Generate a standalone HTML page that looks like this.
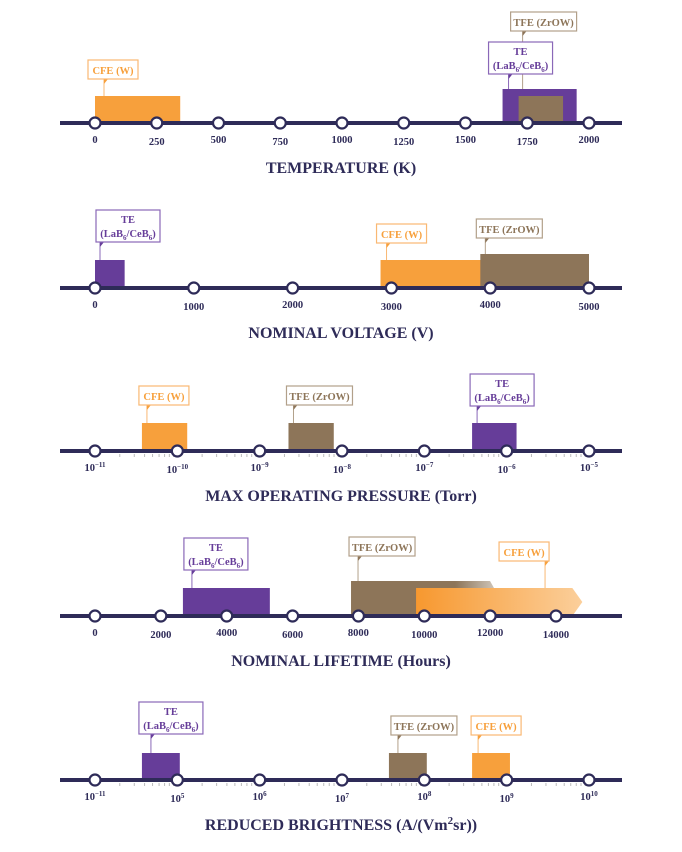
<!DOCTYPE html>
<html><head><meta charset="utf-8"><style>
html,body{margin:0;padding:0;background:#fff;}
svg{display:block;font-family:"Liberation Serif",serif;}
</style></head><body>
<svg id="chart" width="682" height="852" viewBox="0 0 682 852" xmlns="http://www.w3.org/2000/svg">
<defs>
<linearGradient id="gTFE" x1="0" x2="1" y1="0" y2="0"><stop offset="0" stop-color="#8d7559"/><stop offset="0.7" stop-color="#8d7559"/><stop offset="1" stop-color="#8d7559" stop-opacity="0.35"/></linearGradient>
<linearGradient id="gCFE" x1="0" x2="1" y1="0" y2="0"><stop offset="0" stop-color="#f7982f"/><stop offset="1" stop-color="#fbcf9b"/></linearGradient>
</defs>
</svg>
<script>
// ---- data ----
const tempTicks=[0,250,500,750,1000,1250,1500,1750,2000];
const tempSeries=["CFE","TE","TFE"];
const tempStart=[0,1650,1715];
const tempEnd=[345,1950,1895];
const voltTicks=[0,1000,2000,3000,4000,5000];
const voltSeries=["TE","CFE","TFE"];
const voltStart=[0,2890,3900];
const voltEnd=[300,4100,5000];
const presTicks=[-11,-10,-9,-8,-7,-6,-5];
const presTickLabels=["-11","-10","-9","-8","-7","-6","-5"];
const presSeries=["CFE","TFE","TE"];
const presStart=[-10.43,-8.65,-6.42];
const presEnd=[-9.88,-8.1,-5.88];
const lifeTicks=[0,2000,4000,6000,8000,10000,12000,14000];
const lifeSeries=["TE","TFE","CFE"];
const lifeStart=[2670,7775,9750];
const lifeEnd=[5310,12300,14800];
const brightTicks=[4,5,6,7,8,9,10];
const brightTickLabels=["-11","5","6","7","8","9","10"];
const brightSeries=["TE","TFE","CFE"];
const brightStart=[4.57,7.57,8.58];
const brightEnd=[5.03,8.03,9.04];

const NS="http://www.w3.org/2000/svg";
const svg=document.getElementById('chart');
const NAVY="#2e2b58";
const COL={CFE:"#f7a03c",TE:"#663d99",TFE:"#8d7559"};
const LCOL={CFE:"#f9b873",TE:"#8a68b8",TFE:"#b2a08a"};
function mk(tag,attrs,parent){const e=document.createElementNS(NS,tag);for(const k in attrs)e.setAttribute(k,attrs[k]);(parent||svg).appendChild(e);return e;}

function panel(cfg){
  const g=mk('g',{});
  
  
  const lines=mk('g',{},g);
  const y=cfg.y;
  const x=v=>95+(v-cfg.min)/(cfg.max-cfg.min)*cfg.span;
  cfg.series.forEach((s,i)=>{
    const x0=x(cfg.start[i]),x1=x(cfg.end[i]);const top=y-cfg.h[i];
    let el;
    if(cfg.arrow&&cfg.arrow[i]){
      el=mk('polygon',{points:`${x0},${top} ${x1-10},${top} ${x1},${(top+y)/2} ${x1-10},${y} ${x0},${y}`,fill:cfg.arrow[i]},g);
    } else el=mk('rect',{x:x0,y:top,width:x1-x0,height:y-top,fill:COL[s]},g);
    
    
    const L=cfg.lab[i];const px=x0+L[0];const two=s==="TE";
    const w=s==="CFE"?50:(s==="TFE"?66:64);const hh=two?32:19;
    const bx=px+L[1]-w/2, by=L[2];
    const lg=mk('g',{},g);
    
    
    mk('line',{x1:px,y1:by+hh,x2:px,y2:top,stroke:LCOL[s],'stroke-width':1},lines);
    mk('polygon',{points:`${px},${by+hh} ${px+4},${by+hh} ${px},${by+hh+5}`,fill:COL[s]},lg);
    mk('rect',{x:bx,y:by,width:w,height:hh,fill:'#fff',stroke:LCOL[s],'stroke-width':1.2},lg);
    const tx=bx+w/2;
    if(two){
      const t1=mk('text',{x:tx,y:by+13,'text-anchor':'middle','font-size':10.5,'font-weight':'bold',fill:COL[s]},lg);t1.textContent="TE";
      const t2=mk('text',{x:tx,y:by+27,'text-anchor':'middle','font-size':10.5,'font-weight':'bold',fill:COL[s]},lg);
      t2.innerHTML='(LaB<tspan font-size="7" dy="3">6</tspan><tspan dy="-3">/CeB</tspan><tspan font-size="7" dy="3">6</tspan><tspan dy="-3">)</tspan>';
    } else {
      const t=mk('text',{x:tx,y:by+14,'text-anchor':'middle','font-size':10.5,'font-weight':'bold',fill:COL[s]},lg);
      t.textContent=s==="CFE"?"CFE (W)":"TFE (ZrOW)";
    }
  });
  const ax=mk('line',{x1:60,y1:y,x2:622,y2:y,stroke:NAVY,'stroke-width':4},g);
  
  
  if(cfg.log){
    for(let e=cfg.min;e<cfg.max;e++)for(let k=2;k<10;k++){
      const xx=x(e+Math.log10(k));mk('line',{x1:xx,y1:y+3,x2:xx,y2:y+6,stroke:'#bbb','stroke-width':1},g);
    }
  }
  cfg.ticks.forEach((t,i)=>{
    const c=mk('circle',{cx:x(t),cy:y,r:5.5,fill:'#fff',stroke:NAVY,'stroke-width':2.2},g);
    
    
    const ly=y+20+(i%2?2:0);
    const tl=mk('text',{x:x(t),y:ly,'text-anchor':'middle','font-size':10.5,'font-weight':'bold',fill:NAVY},g);
    
    
    if(cfg.log){tl.innerHTML='10<tspan font-size="7" dy="-4">'+cfg.tickLabels[i].replace('-','\u2212')+'</tspan>';}
    else tl.textContent=String(t);
  });
  const ti=mk('text',{x:341,y:y+50,'text-anchor':'middle','font-size':16,'font-weight':'bold',fill:NAVY},g);
  
  
  ti.innerHTML=cfg.title;
}

panel({name:'temperature',y:123,min:0,max:2000,span:494,ticks:tempTicks,series:tempSeries,start:tempStart,end:tempEnd,
  h:[27,34,27],lab:[[9,9,60],[6,12,42],[4,21,12]],title:'TEMPERATURE (K)'});
panel({name:'voltage',y:288,min:0,max:5000,span:494,ticks:voltTicks,series:voltSeries,start:voltStart,end:voltEnd,
  h:[28,28,34],lab:[[5,28,210],[6,15,224],[5,24,219]],title:'NOMINAL VOLTAGE (V)'});
panel({name:'pressure',y:451,min:-11,max:-5,span:494,log:true,ticks:presTicks,tickLabels:presTickLabels,series:presSeries,start:presStart,end:presEnd,
  h:[28,28,28],lab:[[5,17,386],[5,26,386],[5,25,374]],title:'MAX OPERATING PRESSURE (Torr)'});
panel({name:'lifetime',y:616,min:0,max:14000,span:461,ticks:lifeTicks,series:lifeSeries,start:lifeStart,end:lifeEnd,
  h:[28,35,28],arrow:[null,'url(#gTFE)','url(#gCFE)'],lab:[[9,24,538],[7,24,537],[129,-21,542]],title:'NOMINAL LIFETIME (Hours)'});
panel({name:'brightness',y:780,min:4,max:10,span:494,log:true,ticks:brightTicks,tickLabels:brightTickLabels,series:brightSeries,start:brightStart,end:brightEnd,
  h:[27,27,27],lab:[[9,20,702],[9,26,716],[6,18,716]],title:'REDUCED BRIGHTNESS (A/(Vm<tspan font-size="11" dy="-6">2</tspan><tspan dy="6">sr))</tspan>'});
</script>
</body></html>
